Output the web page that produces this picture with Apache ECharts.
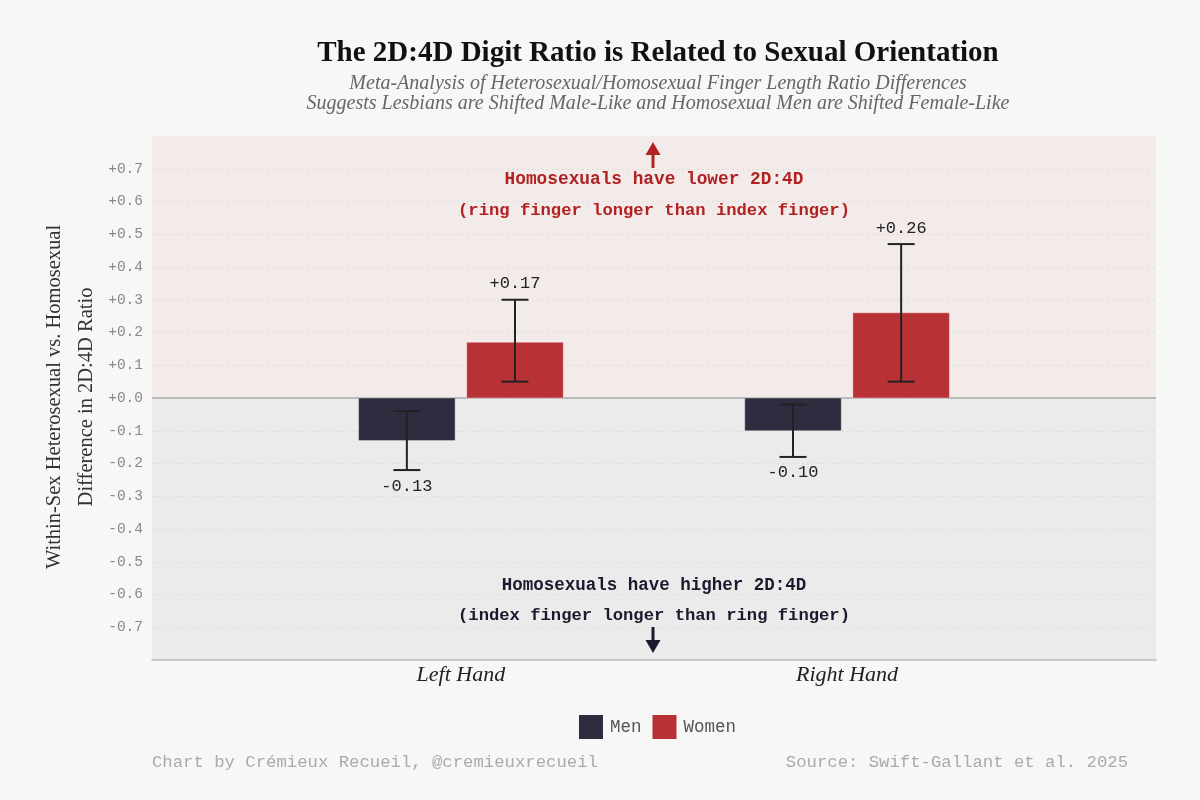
<!DOCTYPE html>
<html><head><meta charset="utf-8">
<script src="https://cdn.jsdelivr.net/npm/echarts@6/dist/echarts.min.js"></script>
<style>html,body{margin:0;padding:0;background:#f7f7f5}#c{width:1200px;height:800px}</style>
</head><body><div id="c"></div>
<script>
const categories = ['Left Hand', 'Right Hand'];
const seriesNames = ['Men', 'Women'];
const menValues = [-0.13, -0.10];
const menLow = [-0.22, -0.18];
const menHigh = [-0.04, -0.02];
const womenValues = [0.17, 0.26];
const womenLow = [0.05, 0.05];
const womenHigh = [0.30, 0.47];
const regions = [[0, 0.8], [-0.8, 0]];

const MENC = '#2e2d40', WOMENC = '#b83235';
const SERIF = '"Liberation Serif", "Times New Roman", serif';
const MONO = '"Courier New", "Liberation Mono", monospace';
const BAR_W = 0.25, OFF = 0.14;
const REGION_COLORS = ['#f3eaea', '#ebebeb'];

function fmt(v){ const r = Math.round(v*100)/100; return (r >= 0 ? '+' : '') + r.toFixed(2); }

function barSeries(name, values, low, high, offset, color){
  const data = values.map((v,i)=>[i, v, low[i], high[i]]);
  return {
    name, type:'custom', coordinateSystem:'cartesian2d', itemStyle:{color},
    data, z:3,
    encode:{x:0, y:1},
    renderItem(params, api){
      const x = api.value(0), v = api.value(1), lo = api.value(2), hi = api.value(3);
      const p1 = api.coord([x+offset-BAR_W/2, v]);
      const p2 = api.coord([x+offset+BAR_W/2, 0]);
      const cx = api.coord([x+offset, 0])[0];
      const yLo = api.coord([0, lo])[1], yHi = api.coord([0, hi])[1];
      const cap = 13.5;
      const lineStyle = {stroke:'#222', lineWidth:2};
      const labelY = v >= 0 ? yHi - 16 : yLo + 16;
      return {type:'group', children:[
        {type:'rect', shape:{x:Math.min(p1[0],p2[0]), y:Math.min(p1[1],p2[1]), width:Math.abs(p2[0]-p1[0]), height:Math.abs(p2[1]-p1[1])},
          style:{fill:color, stroke:'rgba(255,255,255,0.35)', lineWidth:1}},
        {type:'line', shape:{x1:cx, y1:yLo, x2:cx, y2:yHi}, style:lineStyle},
        {type:'line', shape:{x1:cx-cap, y1:yLo, x2:cx+cap, y2:yLo}, style:lineStyle},
        {type:'line', shape:{x1:cx-cap, y1:yHi, x2:cx+cap, y2:yHi}, style:lineStyle},
        {type:'text', style:{text:fmt(v), x:cx, y:labelY, align:'center', verticalAlign:'middle',
          font:'17px ' + MONO, fill:'#222'}}
      ]};
    }
  };
}

const chart = echarts.init(document.getElementById('c'));
chart.setOption({
  backgroundColor:'#f7f7f5',
  animation:false,
  title:{
    text:'The 2D:4D Digit Ratio is Related to Sexual Orientation',
    subtext:'Meta-Analysis of Heterosexual/Homosexual Finger Length Ratio Differences\nSuggests Lesbians are Shifted Male-Like and Homosexual Men are Shifted Female-Like',
    left:653, top:34, textAlign:'center', itemGap:6,
    textStyle:{fontFamily:SERIF, fontWeight:'bold', fontSize:29, color:'#111'},
    subtextStyle:{fontFamily:SERIF, fontStyle:'italic', fontSize:20, color:'#666', lineHeight:20}
  },
  legend:{
    data:seriesNames, bottom:56, left:574, icon:'rect', itemWidth:24, itemHeight:24, itemGap:11,
    textStyle:{fontFamily:MONO, fontSize:17.5, color:'#555', padding:[0,0,0,2]}
  },
  grid:{left:152, right:44, top:136, bottom:140},
  xAxis:{type:'value', min:-0.8, max:1.8, z:1,
    axisLine:{show:true, onZero:false, lineStyle:{color:'#bbb', width:1.5}},
    axisTick:{show:false}, splitLine:{show:false},
    axisLabel:{customValues:[0,1], formatter:v=>categories[Math.round(v)] || '', margin:4,
      fontFamily:SERIF, fontStyle:'italic', fontSize:22, color:'#222'}},
  yAxis:{type:'value', min:-0.8, max:0.8, interval:0.1, z:1,
    axisLine:{show:false}, axisTick:{show:false},
    axisLabel:{showMinLabel:false, showMaxLabel:false, margin:9, fontFamily:MONO, fontSize:14.5, color:'#888',
      formatter:v=>{ const r=Math.round(v*10)/10; return (r>=0?'+':'') + (r===0?'0.0':r.toFixed(1)); }},
    splitLine:{show:true, showMinLine:false, showMaxLine:false, lineStyle:{color:'#dcdcdc', type:[2,3], width:1}}},
  series:[
    {type:'custom', name:'bg', silent:true, z:-1, data:regions.map((r,i)=>[r[0], r[1], i]),
      encode:{y:[0,1]},
      renderItem(params, api){
        const a = api.coord([-0.8, api.value(1)]);
        const b = api.coord([1.8, api.value(0)]);
        return {type:'rect', shape:{x:a[0], y:a[1], width:b[0]-a[0], height:b[1]-a[1]},
          style:{fill:REGION_COLORS[api.value(2)]}};
      }},
    {type:'custom', name:'zero', silent:true, z:2, data:[[0]],
      renderItem(params, api){
        const a = api.coord([-0.8, 0]), b = api.coord([1.8, 0]);
        return {type:'line', shape:{x1:a[0], y1:a[1], x2:b[0], y2:b[1]}, style:{stroke:'#aaa', lineWidth:1.5}};
      }},
    barSeries('Men', menValues, menLow, menHigh, -OFF, MENC),
    barSeries('Women', womenValues, womenLow, womenHigh, OFF, WOMENC)
  ],
  graphic:[
    {type:'text', x:71, y:397, z:10, rotation:Math.PI/2, style:{text:'Within-Sex Heterosexual vs. Homosexual\nDifference in 2D:4D Ratio',
      align:'center', verticalAlign:'middle', font:'20.5px ' + SERIF, fill:'#333', lineHeight:32}},
    {type:'line', z:10, shape:{x1:653, y1:168, x2:653, y2:152}, style:{stroke:'#b22222', lineWidth:3}},
    {type:'polygon', z:10, shape:{points:[[653,142],[645.5,155],[660.5,155]]}, style:{fill:'#b22222'}},
    {type:'text', z:10, x:654, y:180, style:{text:'Homosexuals have lower 2D:4D', align:'center', verticalAlign:'middle',
      font:'bold 17.8px ' + MONO, fill:'#b22222'}},
    {type:'text', z:10, x:654, y:211, style:{text:'(ring finger longer than index finger)', align:'center', verticalAlign:'middle',
      font:'bold 17.2px ' + MONO, fill:'#b22222'}},
    {type:'text', z:10, x:654, y:586, style:{text:'Homosexuals have higher 2D:4D', align:'center', verticalAlign:'middle',
      font:'bold 17.5px ' + MONO, fill:'#1a1a2e'}},
    {type:'text', z:10, x:654, y:616, style:{text:'(index finger longer than ring finger)', align:'center', verticalAlign:'middle',
      font:'bold 17.2px ' + MONO, fill:'#1a1a2e'}},
    {type:'line', z:10, shape:{x1:653, y1:627, x2:653, y2:642}, style:{stroke:'#1a1a2e', lineWidth:3}},
    {type:'polygon', z:10, shape:{points:[[653,653],[645.5,640],[660.5,640]]}, style:{fill:'#1a1a2e'}},
    {type:'text', x:152, y:762, style:{text:'Chart by Crémieux Recueil, @cremieuxrecueil', align:'left', verticalAlign:'middle',
      font:'17.3px ' + MONO, fill:'#aaa'}},
    {type:'text', x:1128, y:762, style:{text:'Source: Swift-Gallant et al. 2025', align:'right', verticalAlign:'middle',
      font:'17.3px ' + MONO, fill:'#aaa'}}
  ]
});
</script></body></html>
